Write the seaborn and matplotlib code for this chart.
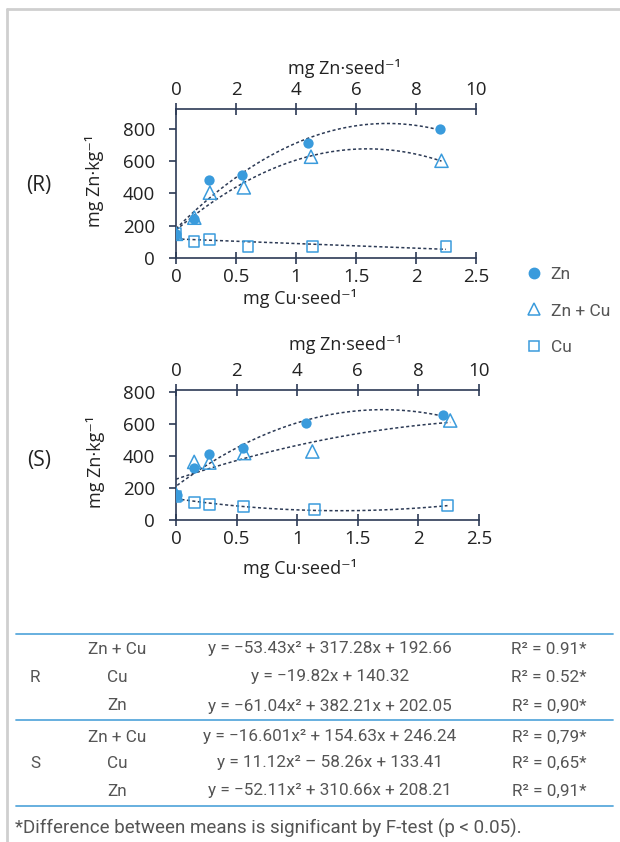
import numpy as np
import matplotlib
matplotlib.use("Agg")
import matplotlib.pyplot as plt
from matplotlib.lines import Line2D
import seaborn as sns

# --- data ------------------------------------------------------------------
# Zn-treated series sit on the top axis (mg Zn/seed), Cu on the bottom (mg Cu/seed)
r_zn_dose = [0, 0.6, 1.1, 2.2, 4.4, 8.8]
r_zn_val = [147, 242, 484, 513, 713, 800]
r_zncu_dose = [0, 0.61, 1.13, 2.26, 4.5, 8.85]
r_zncu_val = [150, 250, 405, 438, 628, 603]
r_cu_dose = [0, 0.15, 0.28, 0.6, 1.14, 2.25]
r_cu_val = [153, 104, 116, 70, 70, 70]

s_zn_dose = [0.04, 0.6, 1.1, 2.2, 4.3, 8.8]
s_zn_val = [156, 327, 410, 448, 604, 652]
s_zncu_dose = [0, 0.6, 1.1, 2.25, 4.5, 9.05]
s_zncu_val = [160, 362, 358, 417, 427, 620]
s_cu_dose = [0, 0.15, 0.28, 0.56, 1.14, 2.24]
s_cu_val = [146, 110, 94, 83, 67, 88]

cu_ticks = [0, 0.5, 1, 1.5, 2, 2.5]
cu_ticklabels = ["0", "0.5", "1", "1.5", "2", "2.5"]
zn_ticks = [0, 2, 4, 6, 8, 10]
y_ticks = [0, 200, 400, 600, 800]

legend_labels = ["Zn", "Zn + Cu", "Cu"]

table_groups = ["R", "S"]
table_series = ["Zn + Cu", "Cu", "Zn", "Zn + Cu", "Cu", "Zn"]
table_eqs = [
    "y = \u221253.43x\u00b2 + 317.28x + 192.66",
    "y = \u221219.82x + 140.32",
    "y = \u221261.04x\u00b2 + 382.21x + 202.05",
    "y = \u221216.601x\u00b2 + 154.63x + 246.24",
    "y = 11.12x\u00b2 \u2013 58.26x + 133.41",
    "y = \u221252.11x\u00b2 + 310.66x + 208.21",
]
table_r2 = ["R\u00b2 = 0.91*", "R\u00b2 = 0.52*", "R\u00b2 = 0,90*",
            "R\u00b2 = 0,79*", "R\u00b2 = 0,65*", "R\u00b2 = 0,91*"]
footnote = "*Difference between means is significant by F-test (p < 0.05)."

BLUE = "#3a9bdc"
NAVY = "#2c3a55"
TXT = "#222222"
GREY = "#555555"
LINE_BLUE = "#5aa9dc"

sns.set_style("white")
plt.rcParams["font.family"] = ["Open Sans", "DejaVu Sans"]

W, H = 620, 842
fig = plt.figure(figsize=(W / 100, H / 100), dpi=100)


def fpos(x0, y0, x1, y1):
    return [x0 / W, 1 - y1 / H, (x1 - x0) / W, (y1 - y0) / H]


def panel(rect, ylim, zn, zncu, cu, cu_order, tag, tag_y, label_pos):
    ax = fig.add_axes(rect)
    ax2 = ax.twiny()
    dots = dict(ls=(0, (2, 1.6)), lw=1.1, color=NAVY)

    # trendlines (quadratic / linear fits done by seaborn)
    sns.regplot(x=zn[0], y=zn[1], order=2, ci=None, scatter=False, ax=ax2, line_kws=dots)
    sns.regplot(x=zncu[0], y=zncu[1], order=2, ci=None, scatter=False, ax=ax2, line_kws=dots)
    sns.regplot(x=cu[0], y=cu[1], order=cu_order, ci=None, scatter=False, ax=ax, line_kws=dots)

    sns.scatterplot(x=cu[0], y=cu[1], ax=ax, marker="s", s=62, facecolor="none",
                    edgecolor=BLUE, linewidth=1.1, zorder=3)
    sns.scatterplot(x=zncu[0], y=zncu[1], ax=ax2, marker="^", s=90, facecolor="none",
                    edgecolor=BLUE, linewidth=1.1, zorder=3)
    sns.scatterplot(x=zn[0], y=zn[1], ax=ax2, marker="o", s=55, color=BLUE,
                    edgecolor=BLUE, linewidth=0, zorder=4)

    ax.set_xlim(0, 2.5)
    ax2.set_xlim(0, 10)
    ax.set_ylim(*ylim)
    ax.set_xticks(cu_ticks, cu_ticklabels)
    ax2.set_xticks(zn_ticks)
    ax.set_yticks(y_ticks)

    for a in (ax, ax2):
        for s in a.spines.values():
            s.set_visible(False)
    ax.spines["left"].set_visible(True)
    ax.spines["bottom"].set_visible(True)
    ax2.spines["top"].set_visible(True)
    for s in (ax.spines["left"], ax.spines["bottom"], ax2.spines["top"]):
        s.set_color(NAVY)
        s.set_linewidth(1.2)

    ax.tick_params(axis="x", direction="inout", length=9, width=1.2, color=NAVY,
                   labelsize=13.5, labelcolor=TXT, pad=3)
    ax2.tick_params(axis="x", direction="inout", length=9, width=1.2, color=NAVY,
                    labelsize=13.5, labelcolor=TXT, pad=3)
    ax.tick_params(axis="y", direction="out", length=5, width=1.2, color=NAVY,
                   labelsize=13.5, labelcolor=TXT, pad=10, left=True)

    ax.set_xlabel("mg Cu\u00b7seed\u207b\u00b9", fontsize=13, color=TXT)
    ax2.set_xlabel("mg Zn\u00b7seed\u207b\u00b9", fontsize=13, color=TXT)
    ax.set_ylabel("mg Zn\u00b7kg\u207b\u00b9", fontsize=13, color=TXT)
    ax.xaxis.set_label_coords(*label_pos[0])
    ax2.xaxis.set_label_coords(*label_pos[1])
    ax.yaxis.set_label_coords(*label_pos[2])
    for lab in (ax.xaxis.label, ax2.xaxis.label):
        lab.set_va("center")
    ax.yaxis.label.set_va("center")

    fig.text(39 / W, 1 - tag_y / H, tag, fontsize=15, color=TXT, ha="center", va="center")
    return ax


panel(fpos(176, 109, 476, 258), (0, 924),
      (r_zn_dose, r_zn_val), (r_zncu_dose, r_zncu_val), (r_cu_dose, r_cu_val), 1,
      "(R)", 186,
      [(0.413, -0.275), (0.563, 1.275), (-0.27, 0.52)])
panel(fpos(176, 390, 479, 520), (0, 810),
      (s_zn_dose, s_zn_val), (s_zncu_dose, s_zncu_val), (s_cu_dose, s_cu_val), 2,
      "(S)", 460,
      [(0.409, -0.37), (0.558, 1.35), (-0.266, 0.45)])

# legend
handles = [
    Line2D([], [], ls="none", marker="o", ms=7.5, color=BLUE),
    Line2D([], [], ls="none", marker="^", ms=8.5, mfc="none", mec=BLUE, mew=1.1),
    Line2D([], [], ls="none", marker="s", ms=7.5, mfc="none", mec=BLUE, mew=1.1),
]
fig.legend(handles, legend_labels, loc="center left", bbox_to_anchor=(508 / W, 1 - 311 / H),
           frameon=False, labelcolor=GREY, labelspacing=1.25,
           handletextpad=0.35, handlelength=1.2, prop={"family": ["Roboto", "DejaVu Sans"], "size": 12.5})

# grey frame lines of the figure box
fig.add_artist(Line2D([7 / W, 7 / W], [0, 1 - 9 / H], color="#cfcfcf", lw=2))
fig.add_artist(Line2D([7 / W, 1], [1 - 9 / H, 1 - 9 / H], color="#cfcfcf", lw=2))

# equations table
tfont = ["Roboto", "DejaVu Sans"]
TS = 12.3
for yl in (634, 720, 806):
    fig.add_artist(Line2D([16 / W, 613 / W], [1 - yl / H] * 2, color=LINE_BLUE, lw=1.3))
row_y = [649, 677, 706, 737, 763, 791]
for i, (ser, eq, r2) in enumerate(zip(table_series, table_eqs, table_r2)):
    y = 1 - row_y[i] / H
    fig.text(117 / W, y, ser, ha="center", va="center", fontsize=TS, color=GREY, family=tfont)
    fig.text(330 / W, y, eq, ha="center", va="center", fontsize=TS, color=GREY, family=tfont)
    fig.text(549 / W, y, r2, ha="center", va="center", fontsize=TS, color=GREY, family=tfont)
for g, gy in zip(table_groups, (677, 763)):
    fig.text(35 / W, 1 - gy / H, g, ha="center", va="center", fontsize=TS, color=GREY, family=tfont)
fig.text(15 / W, 1 - 828 / H, footnote, ha="left", va="center", fontsize=13.5, color=GREY, family=tfont)

fig.savefig("out.png", dpi=100)
